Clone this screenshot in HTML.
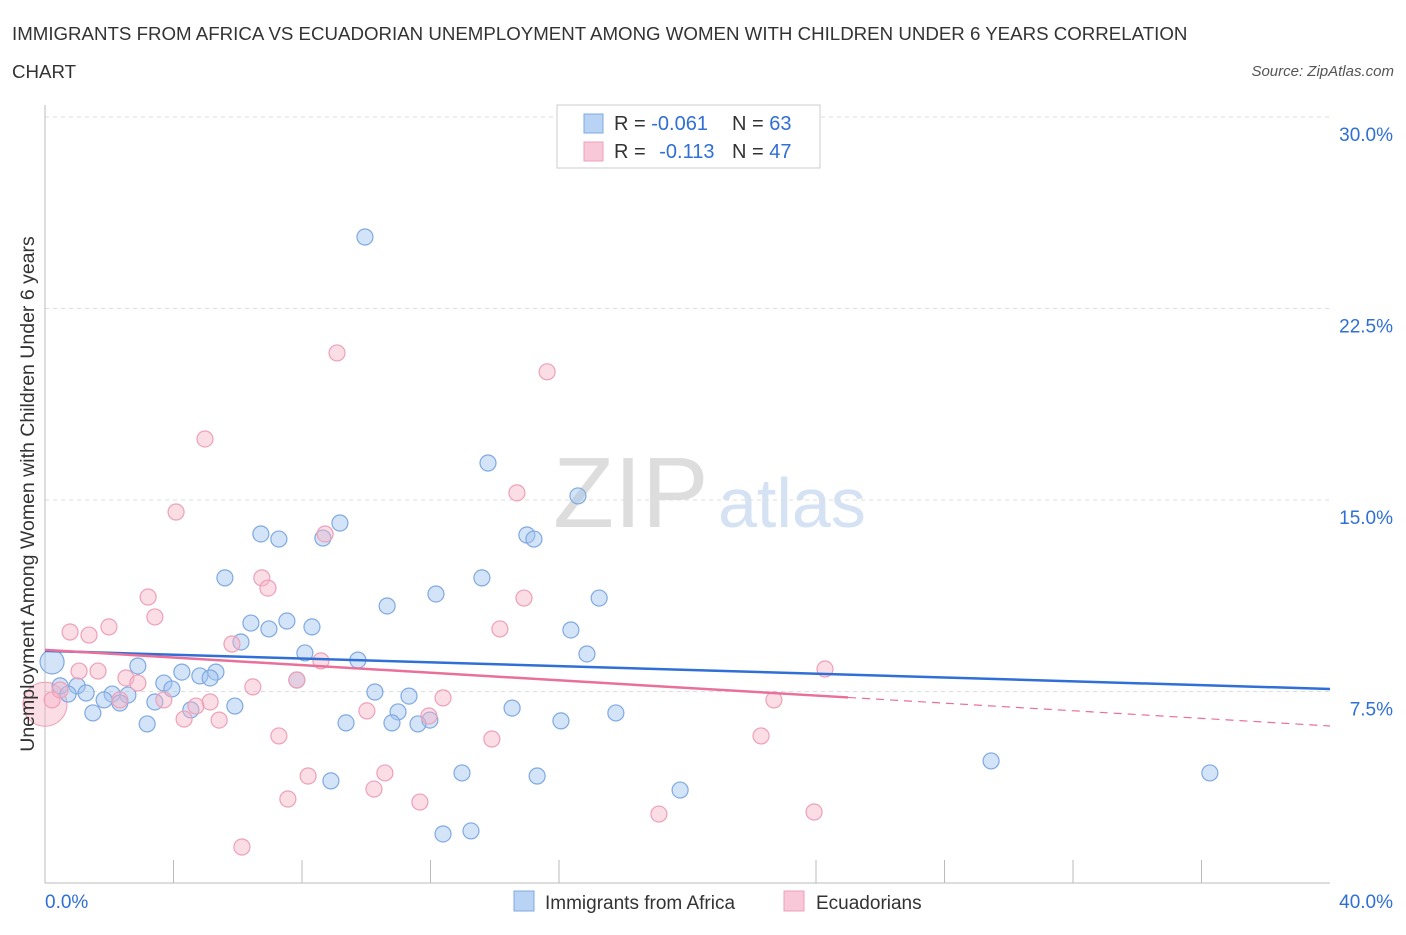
<!DOCTYPE html>
<html><head><meta charset="utf-8"><style>
body{margin:0;background:#fff;font-family:"Liberation Sans",sans-serif;}
svg text{font-family:"Liberation Sans",sans-serif;}
</style></head><body>
<svg id="chart" width="1406" height="930">
<text x="12" y="40" font-size="18.7" fill="#333">IMMIGRANTS FROM AFRICA VS ECUADORIAN UNEMPLOYMENT AMONG WOMEN WITH CHILDREN UNDER 6 YEARS CORRELATION</text>
<text x="12" y="78" font-size="18.7" fill="#333">CHART</text>
<text x="1394" y="76" font-size="15" fill="#555" font-style="italic" text-anchor="end">Source: ZipAtlas.com</text>
<text x="553" y="527" font-size="100" fill="#ddd" font-family="Liberation Serif">ZIP</text>
<text x="718" y="527" font-size="70" fill="#d4e2f4">atlas</text>
<g id="grid"></g><g id="axes"></g><g id="pts"></g><g id="lines"></g>
<text x="34" y="494" font-size="19.5" fill="#333" text-anchor="middle" transform="rotate(-90 34 494)">Unemployment Among Women with Children Under 6 years</text>
<g>
<rect x="557" y="105" width="263" height="63" fill="#fff" stroke="#ccc"/>
<rect x="584" y="114" width="19" height="19" fill="#b9d3f5" stroke="#7fa9e0"/>
<rect x="584" y="142" width="19" height="19" fill="#f9c8d8" stroke="#eea0b8"/>
<text x="614" y="130" font-size="20" fill="#333">R = <tspan fill="#2f6fd6">-0.061</tspan><tspan x="732">N = </tspan><tspan fill="#2f6fd6">63</tspan></text>
<text x="614" y="158" font-size="20" fill="#333">R = <tspan fill="#2f6fd6" dx="8">-0.113</tspan><tspan x="732">N = </tspan><tspan fill="#2f6fd6">47</tspan></text>
</g>
<g>
<rect x="514" y="891" width="20" height="20" fill="#b9d3f5" stroke="#7fa9e0"/>
<text x="545" y="909" font-size="19" fill="#333">Immigrants from Africa</text>
<rect x="784" y="891" width="20" height="20" fill="#f9c8d8" stroke="#eea0b8"/>
<text x="816" y="909" font-size="19" fill="#333">Ecuadorians</text>
</g>
</svg>
<script>
const blueX=[9.96,13.79,16.59,9.18,6.72,7.28,8.65,15.00,15.22,5.60,13.60,10.65,12.17,17.25,6.41,6.97,7.53,8.31,16.37,6.10,8.09,16.87,9.74,0.22,2.89,4.26,5.32,4.82,5.14,3.70,3.95,7.84,0.47,1.00,0.72,1.28,2.09,2.58,1.84,2.33,3.42,5.91,4.54,10.27,11.33,10.99,11.98,14.54,1.49,3.18,9.37,10.80,11.61,16.06,17.77,29.45,36.26,12.98,15.32,8.90,19.77,12.39,13.26];
const blueY=[25.30,16.45,15.16,14.10,13.67,13.47,13.51,13.63,13.47,11.95,11.95,10.85,11.32,11.16,10.18,9.95,10.26,10.03,9.91,9.44,9.01,8.97,8.73,8.66,8.50,8.26,8.26,8.11,8.03,7.83,7.60,7.95,7.72,7.72,7.40,7.44,7.40,7.36,7.17,7.05,7.09,6.93,6.78,7.48,7.32,6.70,6.38,6.85,6.66,6.23,6.27,6.27,6.23,6.35,6.66,4.78,4.31,4.31,4.19,4.00,3.64,1.92,2.04];
const pinkX=[9.09,15.63,4.98,4.08,14.69,8.72,6.75,6.94,3.21,14.91,3.42,0.78,1.37,1.99,14.16,5.82,8.59,1.06,1.65,2.52,2.89,7.84,6.47,24.28,0.22,0.47,2.33,3.70,4.70,5.14,4.33,5.42,10.02,12.39,11.95,22.69,7.28,13.91,22.29,8.19,10.58,10.24,7.56,11.67,19.11,23.94,6.13];
const pinkY=[20.76,20.02,17.39,14.53,15.28,13.67,11.95,11.55,11.20,11.16,10.42,9.83,9.71,10.03,9.95,9.36,8.70,8.30,8.30,8.03,7.83,7.95,7.68,8.38,7.17,7.56,7.17,7.17,6.93,7.09,6.42,6.38,6.74,7.25,6.54,7.17,5.76,5.64,5.76,4.19,4.31,3.68,3.29,3.17,2.70,2.78,1.41];
const blueTrend=[9.09,7.60];
const pinkTrend=[9.13,6.15];
const yTicks=[7.5,15,22.5,30];
const NS="http://www.w3.org/2000/svg";
const sx=v=>45+v*32.125, sy=v=>883-v*25.533;
function mk(tag,attrs,parent){const e=document.createElementNS(NS,tag);for(const k in attrs)e.setAttribute(k,attrs[k]);document.getElementById(parent).appendChild(e);return e;}
yTicks.forEach(t=>{
 const g=mk('line',{x1:45,x2:1330,y1:sy(t),y2:sy(t),stroke:'#ddd','stroke-dasharray':'4,4'},'grid');
 
 
 const l=mk('text',{x:1393,y:sy(t)+24,'font-size':19,fill:'#2f6fd6','text-anchor':'end'},'grid');
 l.textContent=t.toFixed(1)+'%';
 
 
});
const ax=mk('line',{x1:45,x2:1330,y1:883,y2:883,stroke:'#bbb'},'axes');


const ay=mk('line',{x1:45,x2:45,y1:105,y2:883,stroke:'#bbb'},'axes');


for(let i=0;i<=10;i++){const t=mk('line',{x1:sx(i*4),x2:sx(i*4),y1:883,y2:i%5==0?883:860,stroke:'#bbb'},'axes');
 
 }
const xl0=mk('text',{x:45,y:908,'font-size':19,fill:'#2f6fd6'},'axes');xl0.textContent='0.0%';


const xl1=mk('text',{x:1393,y:908,'font-size':19,fill:'#2f6fd6','text-anchor':'end'},'axes');xl1.textContent='40.0%';


const bp=mk('circle',{cx:sx(0),cy:sy(7.0),r:22,fill:'rgba(246,180,200,0.45)',stroke:'#eea0b8'},'pts');


blueX.forEach((x,i)=>{const c=mk('circle',{cx:sx(x),cy:sy(blueY[i]),r:i==23?12:8,fill:'rgba(160,196,240,0.45)',stroke:'#7fa9e0','stroke-width':1.2},'pts');
 
 });
pinkX.forEach((x,i)=>{const c=mk('circle',{cx:sx(x),cy:sy(pinkY[i]),r:8,fill:'rgba(246,180,200,0.45)',stroke:'#eea0b8','stroke-width':1.2},'pts');
 
 });
const bl=mk('line',{x1:sx(0),y1:sy(blueTrend[0]),x2:sx(40),y2:sy(blueTrend[1]),stroke:'#2f6fd6','stroke-width':2.5},'lines');


const pm=pinkTrend[0]+(pinkTrend[1]-pinkTrend[0])*25/40;
const pl=mk('line',{x1:sx(0),y1:sy(pinkTrend[0]),x2:sx(25),y2:sy(pm),stroke:'#e8709a','stroke-width':2.5},'lines');


const pd=mk('line',{x1:sx(25),y1:sy(pm),x2:sx(40),y2:sy(pinkTrend[1]),stroke:'#e8709a','stroke-width':1.2,'stroke-dasharray':'8,6'},'lines');


</script>
</body></html>
